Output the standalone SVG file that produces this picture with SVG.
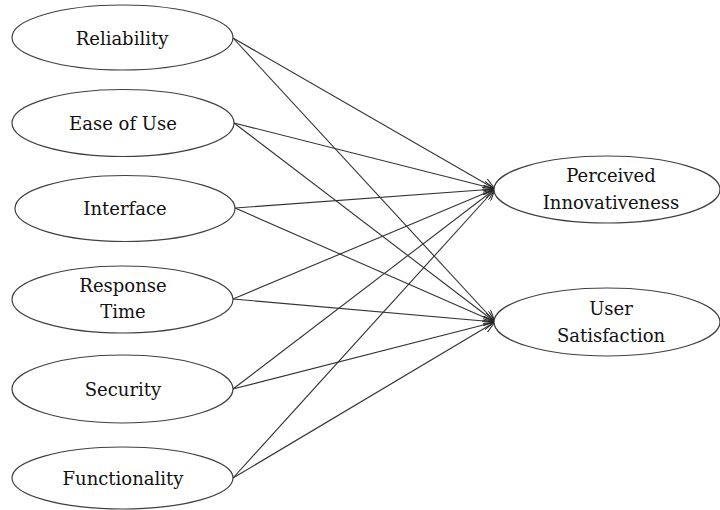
<svg xmlns="http://www.w3.org/2000/svg" width="720" height="510" viewBox="0 0 720 510">
  <style>
    .node ellipse { fill: #ffffff; stroke: #404040; stroke-width: 1.2; }
    .node text { font-family: "DejaVu Serif", "Liberation Serif", serif; font-size: 18px; fill: #111111; text-anchor: middle; }
    .edges line { stroke: #333333; stroke-width: 1.1; marker-end: url(#arrow); }
  </style>
  <defs>
    <marker id="arrow" viewBox="0 0 12 10" refX="12" refY="5" markerWidth="12" markerHeight="10" markerUnits="userSpaceOnUse" orient="auto">
      <path d="M0,0 L12,5 L0,10" fill="none" stroke="#222222" stroke-width="1"/>
    </marker>
  </defs>

  <rect width="720" height="510" fill="#ffffff"/>

  <!-- connectors: each construct points to both outcomes -->
  <g id="edges" class="edges">
    <line x1="233" y1="38" x2="495" y2="189"/>
    <line x1="233" y1="38" x2="495" y2="322"/>
    <line x1="234" y1="123" x2="495" y2="189"/>
    <line x1="234" y1="123" x2="495" y2="322"/>
    <line x1="235" y1="208" x2="495" y2="189"/>
    <line x1="235" y1="208" x2="495" y2="322"/>
    <line x1="233" y1="299" x2="495" y2="189"/>
    <line x1="233" y1="299" x2="495" y2="322"/>
    <line x1="233" y1="389" x2="495" y2="189"/>
    <line x1="233" y1="389" x2="495" y2="322"/>
    <line x1="233" y1="478" x2="495" y2="189"/>
    <line x1="233" y1="478" x2="495" y2="322"/>
  </g>

  <g id="reliability" class="node">
    <ellipse cx="122.5" cy="37.5" rx="110.5" ry="32.5"/>
    <text x="122" y="45">Reliability</text>
  </g>
  <g id="ease-of-use" class="node">
    <ellipse cx="123" cy="123" rx="111" ry="33.5"/>
    <text x="123" y="130">Ease of Use</text>
  </g>
  <g id="interface" class="node">
    <ellipse cx="125" cy="208.5" rx="110" ry="33"/>
    <text x="125" y="215">Interface</text>
  </g>
  <g id="response-time" class="node">
    <ellipse cx="122.5" cy="299.5" rx="110.5" ry="33.5"/>
    <text x="123" y="292">Response</text>
    <text x="123" y="318">Time</text>
  </g>
  <g id="security" class="node">
    <ellipse cx="122.5" cy="389" rx="110.5" ry="34"/>
    <text x="123" y="396">Security</text>
  </g>
  <g id="functionality" class="node">
    <ellipse cx="122.5" cy="478" rx="110.5" ry="31"/>
    <text x="123" y="485">Functionality</text>
  </g>

  <g id="perceived-innovativeness" class="node">
    <ellipse cx="607" cy="189.5" rx="113" ry="33.5"/>
    <text x="611" y="182">Perceived</text>
    <text x="611" y="209">Innovativeness</text>
  </g>
  <g id="user-satisfaction" class="node">
    <ellipse cx="607" cy="322" rx="113" ry="34"/>
    <text x="611" y="315">User</text>
    <text x="611" y="342">Satisfaction</text>
  </g>
</svg>
